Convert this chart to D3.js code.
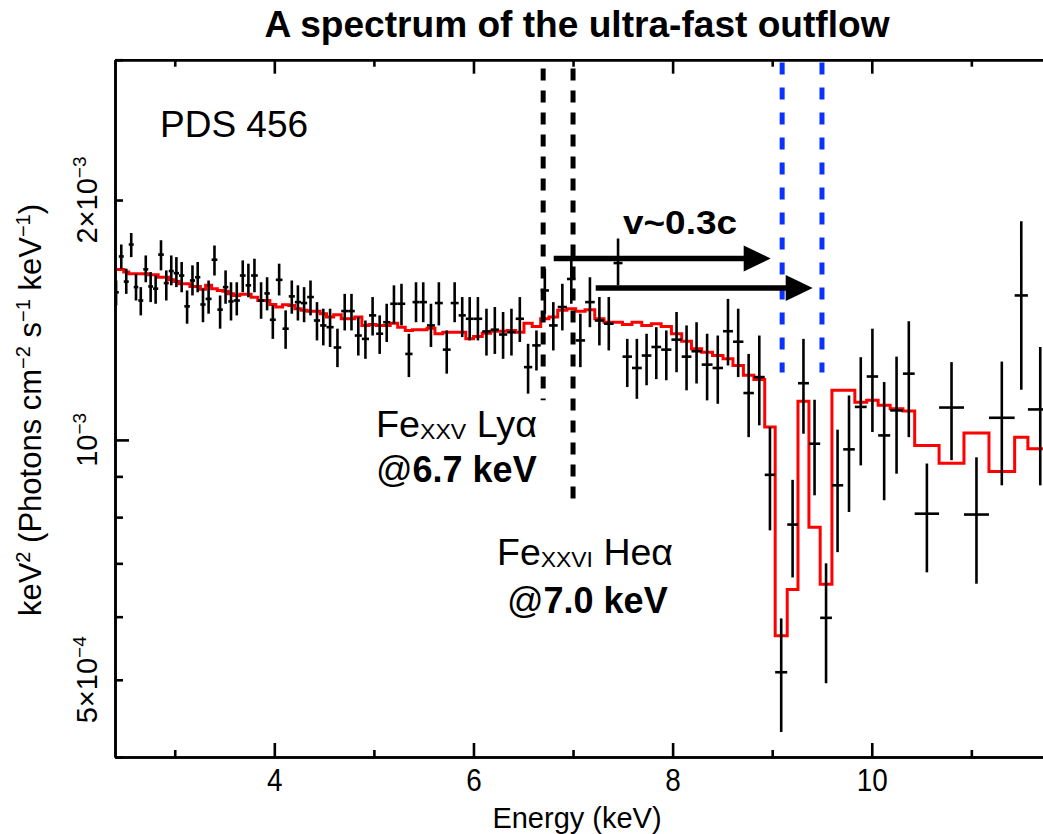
<!DOCTYPE html>
<html>
<head>
<meta charset="utf-8">
<script src="https://cdn.jsdelivr.net/npm/d3@7"></script>
<style>
  body { margin: 0; background: #fff; }
  text { font-family: "Liberation Sans", Arial, Helvetica, sans-serif; fill: #000; }
</style>
</head>
<body>
<svg id="chart" width="1043" height="834"></svg>
<script>
// Spectral bins (keV edges), N+1 values
const binEdges = [
  2.384, 2.438, 2.488, 2.538, 2.588, 2.634, 2.684, 2.734, 2.782, 2.834,
  2.890, 2.940, 2.990, 3.043, 3.096, 3.152, 3.204, 3.257, 3.310, 3.370,
  3.428, 3.483, 3.538, 3.592, 3.654, 3.712, 3.767, 3.834, 3.900, 3.955,
  4.015, 4.082, 4.145, 4.206, 4.268, 4.330, 4.397, 4.460, 4.524, 4.596,
  4.672, 4.742, 4.808, 4.879, 4.951, 5.023, 5.093, 5.164, 5.239, 5.315,
  5.388, 5.458, 5.533, 5.613, 5.692, 5.771, 5.851, 5.923, 6.001, 6.088,
  6.173, 6.256, 6.339, 6.424, 6.507, 6.590, 6.675, 6.758, 6.846, 6.939,
  7.026, 7.121, 7.218, 7.311, 7.407, 7.497, 7.592, 7.690, 7.787, 7.885,
  7.988, 8.091, 8.189, 8.292, 8.401, 8.506, 8.606, 8.711, 8.816, 8.925,
  9.030, 9.151, 9.259, 9.369, 9.482, 9.600, 9.713, 9.830, 9.949, 10.064,
  10.185, 10.313, 10.431, 10.676, 10.926, 11.177, 11.435, 11.568, 11.816
];

// Unfolded flux per bin, in units of 1e-3 keV^2 (photons cm^-2 s^-1 keV^-1)
const flux = [
  1.532, 1.699, 1.580, 1.759, 1.555, 1.496, 1.637, 1.558, 1.548, 1.708,
  1.573, 1.629, 1.619, 1.608, 1.471, 1.585, 1.600, 1.479, 1.503, 1.683,
  1.457, 1.555, 1.492, 1.496, 1.608, 1.563, 1.608, 1.496, 1.527, 1.415,
  1.588, 1.379, 1.514, 1.489, 1.485, 1.511, 1.412, 1.392, 1.385, 1.306,
  1.451, 1.451, 1.352, 1.339, 1.433, 1.359, 1.405, 1.482, 1.482, 1.282,
  1.489, 1.489, 1.392, 1.485, 1.298, 1.485, 1.433, 1.419, 1.419, 1.368,
  1.375, 1.356, 1.365, 1.419, 1.234, 1.314, 1.540, 1.392, 1.468, 1.592,
  1.333, 1.489, 1.412, 1.399, 1.667, 1.272, 1.231, 1.276, 1.308, 1.298,
  1.336, 1.272, 1.292, 1.243, 1.231, 1.369, 1.328, 1.145, 1.199, 0.904,
  0.511, 0.783, 1.178, 0.989, 0.598, 0.877, 0.973, 1.100, 1.201, 1.013,
  1.089, 1.211, 0.808, 1.098, 0.806, 1.066, 1.518, 1.092
];

// Upper end of each 1-sigma error bar
const fluxHi = [
  1.585, 1.759, 1.640, 1.818, 1.616, 1.555, 1.704, 1.624, 1.608, 1.780,
  1.632, 1.704, 1.696, 1.672, 1.540, 1.656, 1.672, 1.548, 1.585, 1.754,
  1.518, 1.632, 1.577, 1.577, 1.680, 1.664, 1.688, 1.577, 1.600, 1.475,
  1.664, 1.454, 1.585, 1.563, 1.555, 1.585, 1.489, 1.461, 1.461, 1.379,
  1.525, 1.525, 1.426, 1.412, 1.511, 1.433, 1.482, 1.563, 1.570, 1.359,
  1.577, 1.577, 1.482, 1.577, 1.372, 1.577, 1.511, 1.511, 1.511, 1.461,
  1.468, 1.447, 1.461, 1.511, 1.320, 1.372, 1.640, 1.489, 1.570, 1.696,
  1.440, 1.600, 1.511, 1.511, 1.790, 1.339, 1.339, 1.359, 1.385, 1.372,
  1.447, 1.392, 1.405, 1.359, 1.352, 1.503, 1.461, 1.282, 1.352, 1.038,
  0.597, 0.891, 1.339, 1.123, 0.700, 1.030, 1.137, 1.270, 1.379, 1.182,
  1.272, 1.409, 0.934, 1.252, 0.951, 1.254, 1.881, 1.308
];

// Lower end of each 1-sigma error bar
const fluxLo = [
  1.475, 1.640, 1.525, 1.696, 1.496, 1.433, 1.577, 1.489, 1.482, 1.632,
  1.496, 1.563, 1.555, 1.532, 1.399, 1.518, 1.532, 1.405, 1.440, 1.608,
  1.379, 1.482, 1.412, 1.433, 1.532, 1.510, 1.532, 1.419, 1.454, 1.339,
  1.518, 1.301, 1.440, 1.412, 1.405, 1.433, 1.333, 1.314, 1.308, 1.234,
  1.372, 1.372, 1.276, 1.264, 1.352, 1.282, 1.327, 1.399, 1.392, 1.199,
  1.405, 1.405, 1.308, 1.392, 1.211, 1.405, 1.346, 1.333, 1.333, 1.276,
  1.282, 1.264, 1.276, 1.327, 1.143, 1.222, 1.440, 1.295, 1.372, 1.482,
  1.234, 1.385, 1.314, 1.295, 1.563, 1.165, 1.126, 1.171, 1.192, 1.188,
  1.216, 1.154, 1.177, 1.121, 1.110, 1.240, 1.199, 1.008, 1.043, 0.770,
  0.430, 0.672, 1.018, 0.852, 0.495, 0.723, 0.812, 0.929, 1.023, 0.840,
  0.907, 1.008, 0.682, 0.943, 0.660, 0.877, 1.156, 0.877
];

// Best-fit model (continuum + absorption lines), same bins
const model = [
  1.636, 1.636, 1.624, 1.616, 1.616, 1.616, 1.616, 1.611, 1.611, 1.600,
  1.600, 1.588, 1.580, 1.570, 1.570, 1.558, 1.558, 1.546, 1.563, 1.548,
  1.540, 1.536, 1.525, 1.518, 1.523, 1.523, 1.510, 1.496, 1.496, 1.479,
  1.468, 1.478, 1.475, 1.461, 1.454, 1.450, 1.450, 1.440, 1.426, 1.436,
  1.419, 1.419, 1.426, 1.392, 1.396, 1.392, 1.392, 1.401, 1.385, 1.372,
  1.375, 1.375, 1.381, 1.359, 1.365, 1.365, 1.365, 1.339, 1.348, 1.361,
  1.369, 1.369, 1.372, 1.365, 1.401, 1.388, 1.419, 1.426, 1.454, 1.461,
  1.450, 1.457, 1.419, 1.405, 1.405, 1.396, 1.405, 1.392, 1.399, 1.388,
  1.359, 1.330, 1.301, 1.288, 1.276, 1.264, 1.240, 1.205, 1.191, 1.038,
  0.568, 0.649, 1.118, 0.777, 0.659, 1.154, 1.154, 1.115, 1.121, 1.105,
  1.094, 1.087, 0.984, 0.935, 1.020, 0.913, 1.008, 0.975
];
const fluxUnit = 1e-3;

// Axis ticks
const xMajorTicks = [4, 6, 8, 10];
const xMinorTicks = [3, 5, 7, 9, 11];
const yMajorTicks = [1e-3];
const yMinorTicks = [4e-4, 5e-4, 6e-4, 7e-4, 8e-4, 9e-4, 2e-3, 3e-3];
const yTickLabels = [
  { value: 2e-3, mant: "2×10", exp: "−3" },
  { value: 1e-3, mant: "10", exp: "−3" },
  { value: 5e-4, mant: "5×10", exp: "−4" }
];

// Rest-frame lines (black) and their blueshifted counterparts (blue)
const restLines = [
  { energy: 6.7, top: 2.925e-3, bottom: 1.121e-3 },
  { energy: 7.0, top: 2.925e-3, bottom: 0.823e-3 }
];
const shiftedLines = [
  { energy: 9.1, top: 2.976e-3, bottom: 1.215e-3 },
  { energy: 9.5, top: 2.976e-3, bottom: 1.215e-3 }
];
const shiftArrows = [
  { from: 6.806, to: 8.985, level: 1.689e-3 },
  { from: 7.228, to: 9.407, level: 1.551e-3 }
];

const svg = d3.select("#chart");
const x = d3.scaleLinear().domain([2.4, 11.8]).range([115, 1051]);
const y = d3.scaleLog().domain([4e-4, 3e-3]).range([757, 59.7]);
const [yBottom, yTop] = y.range();

// Clip for everything drawn inside the frame
svg.append("defs").append("clipPath").attr("id", "plotClip")
  .append("rect").attr("x", x.range()[0]).attr("y", yTop)
  .attr("width", x.range()[1] - x.range()[0]).attr("height", yBottom - yTop);

const plot = svg.append("g").attr("clip-path", "url(#plotClip)");

// Model as a step histogram
const stepPts = model.map((m, i) => [binEdges[i], m * fluxUnit]);
stepPts.push([binEdges[binEdges.length - 1], model[model.length - 1] * fluxUnit]);
plot.append("path")
  .datum(stepPts)
  .attr("fill", "none")
  .attr("stroke", "#ff0000")
  .attr("stroke-width", 3)
  .attr("d", d3.line().x(d => x(d[0])).y(d => y(d[1])).curve(d3.curveStepAfter));

// Data crosses: energy bin width + flux error
const bins = flux.map((f, i) => ({
  lo: binEdges[i], hi: binEdges[i + 1], f: f * fluxUnit,
  eLo: fluxLo[i] * fluxUnit, eHi: fluxHi[i] * fluxUnit
}));
const cross = plot.append("g").attr("stroke", "#000").attr("stroke-width", 2.6);
cross.selectAll("line.v").data(bins).join("line").attr("class", "v")
  .attr("x1", d => x((d.lo + d.hi) / 2)).attr("x2", d => x((d.lo + d.hi) / 2))
  .attr("y1", d => y(d.eHi)).attr("y2", d => y(d.eLo));
cross.selectAll("line.h").data(bins).join("line").attr("class", "h")
  .attr("x1", d => x(d.lo)).attr("x2", d => x(d.hi))
  .attr("y1", d => y(d.f)).attr("y2", d => y(d.f));

// Dashed line markers
plot.selectAll("line.rest").data(restLines).join("line").attr("class", "rest")
  .attr("x1", d => x(d.energy)).attr("x2", d => x(d.energy))
  .attr("y1", d => y(d.top)).attr("y2", d => y(d.bottom))
  .attr("stroke", "#000").attr("stroke-width", 5).attr("stroke-dasharray", "12,10");
plot.selectAll("line.shift").data(shiftedLines).join("line").attr("class", "shift")
  .attr("x1", d => x(d.energy)).attr("x2", d => x(d.energy))
  .attr("y1", d => y(d.top)).attr("y2", d => y(d.bottom))
  .attr("stroke", "#0a32ff").attr("stroke-width", 5).attr("stroke-dasharray", "12,13");

// Shift arrows
const headLen = 27, headHalf = 13;
const arrows = plot.selectAll("g.arrow").data(shiftArrows).join("g").attr("class", "arrow");
arrows.append("line")
  .attr("x1", d => x(d.from)).attr("x2", d => x(d.to) - headLen + 2)
  .attr("y1", d => y(d.level)).attr("y2", d => y(d.level))
  .attr("stroke", "#000").attr("stroke-width", 5.5);
arrows.append("path")
  .attr("fill", "#000")
  .attr("d", d => {
    const tx = x(d.to), ty = y(d.level);
    return `M${tx},${ty}L${tx - headLen},${ty - headHalf}L${tx - headLen},${ty + headHalf}Z`;
  });

// Axes
const axisG = svg.append("g").attr("class", "axes");
function styleAxis(g) {
  g.select(".domain").attr("stroke", "#000").attr("stroke-width", 2.6);
  g.selectAll(".tick line").attr("stroke", "#000").attr("stroke-width", 2.6);
  g.selectAll(".tick text").remove();
}
axisG.append("g").attr("transform", `translate(0,${yBottom})`)
  .call(d3.axisBottom(x).tickValues(xMinorTicks).tickSize(-7).tickSizeOuter(0)).call(styleAxis);
const xBottom = axisG.append("g").attr("transform", `translate(0,${yBottom})`)
  .call(d3.axisBottom(x).tickValues(xMajorTicks).tickSize(-14).tickSizeOuter(0));
xBottom.select(".domain").attr("stroke", "#000").attr("stroke-width", 2.6);
xBottom.selectAll(".tick line").attr("stroke", "#000").attr("stroke-width", 2.6);
xBottom.selectAll(".tick text")
  .attr("y", 34).attr("dy", 0)
  .attr("textLength", d => String(d).length * 15.5)
  .attr("lengthAdjust", "spacingAndGlyphs")
  .style("font-size", "32px").style("fill", "#000");

axisG.append("g").attr("transform", `translate(0,${yTop})`)
  .call(d3.axisTop(x).tickValues(xMinorTicks).tickSize(-7).tickSizeOuter(0)).call(styleAxis);
axisG.append("g").attr("transform", `translate(0,${yTop})`)
  .call(d3.axisTop(x).tickValues(xMajorTicks).tickSize(-14).tickSizeOuter(0)).call(styleAxis);

axisG.append("g").attr("transform", `translate(${x.range()[0]},0)`)
  .call(d3.axisLeft(y).tickValues(yMinorTicks).tickSize(-8).tickSizeOuter(0)).call(styleAxis);
axisG.append("g").attr("transform", `translate(${x.range()[0]},0)`)
  .call(d3.axisLeft(y).tickValues(yMajorTicks).tickSize(-14).tickSizeOuter(0)).call(styleAxis);

// Rotated y tick labels with superscript exponent
const yLab = svg.append("g").selectAll("text").data(yTickLabels).join("text")
  .attr("transform", d => `translate(97,${y(d.value)}) rotate(-90)`)
  .attr("text-anchor", "middle")
  .style("font-size", "29px");
yLab.append("tspan").text(d => d.mant);
yLab.append("tspan").attr("dy", -11).style("font-size", "19px").text(d => d.exp);

// Axis titles
svg.append("text")
  .attr("x", 577).attr("y", 828).attr("text-anchor", "middle")
  .style("font-size", "29px").text("Energy (keV)");

const yTitle = svg.append("text")
  .attr("transform", "translate(41,410) rotate(-90)")
  .attr("text-anchor", "middle")
  .style("font-size", "31px");
[["keV", 0, 31], ["2", -11, 20], [" (Photons cm", 11, 31], ["−2", -11, 20], [" s", 11, 31],
 ["−1", -11, 20], [" keV", 11, 31], ["−1", -11, 20], [")", 11, 31]].forEach(([t, dy, fs]) => {
  yTitle.append("tspan").attr("dy", dy).style("font-size", fs + "px").text(t);
});

// Title
svg.append("text")
  .attr("x", 577).attr("y", 37).attr("text-anchor", "middle")
  .attr("textLength", 625).attr("lengthAdjust", "spacingAndGlyphs")
  .style("font-size", "36px").style("font-weight", "bold")
  .text("A spectrum of the ultra-fast outflow");

// Annotations
svg.append("text").attr("x", 160).attr("y", 137)
  .style("font-size", "37px").text("PDS 456");

svg.append("text").attr("x", 623).attr("y", 234)
  .attr("textLength", 114).attr("lengthAdjust", "spacingAndGlyphs")
  .style("font-size", "34px").style("font-weight", "bold").text("v~0.3c");

function ionLabel(x0, yBase, ion, stage, line, width, x1, yBase2, energyText) {
  const t = svg.append("text").attr("x", x0).attr("y", yBase)
    .attr("textLength", width).attr("lengthAdjust", "spacingAndGlyphs")
    .style("font-size", "36px");
  t.append("tspan").text(ion);
  t.append("tspan").attr("dy", 2).style("font-size", "22px").text(stage);
  t.append("tspan").attr("dy", -2).text(" " + line);
  const e = svg.append("text").attr("x", x1).attr("y", yBase2).style("font-size", "36px");
  e.append("tspan").text("@");
  e.append("tspan").style("font-weight", "bold").text(energyText);
}
ionLabel(376, 437, "Fe", "XXV", "Lyα", 161, 376, 482, "6.7 keV");
ionLabel(497, 565, "Fe", "XXVI", "Heα", 176, 507, 613, "7.0 keV");
</script>
</body>
</html>
